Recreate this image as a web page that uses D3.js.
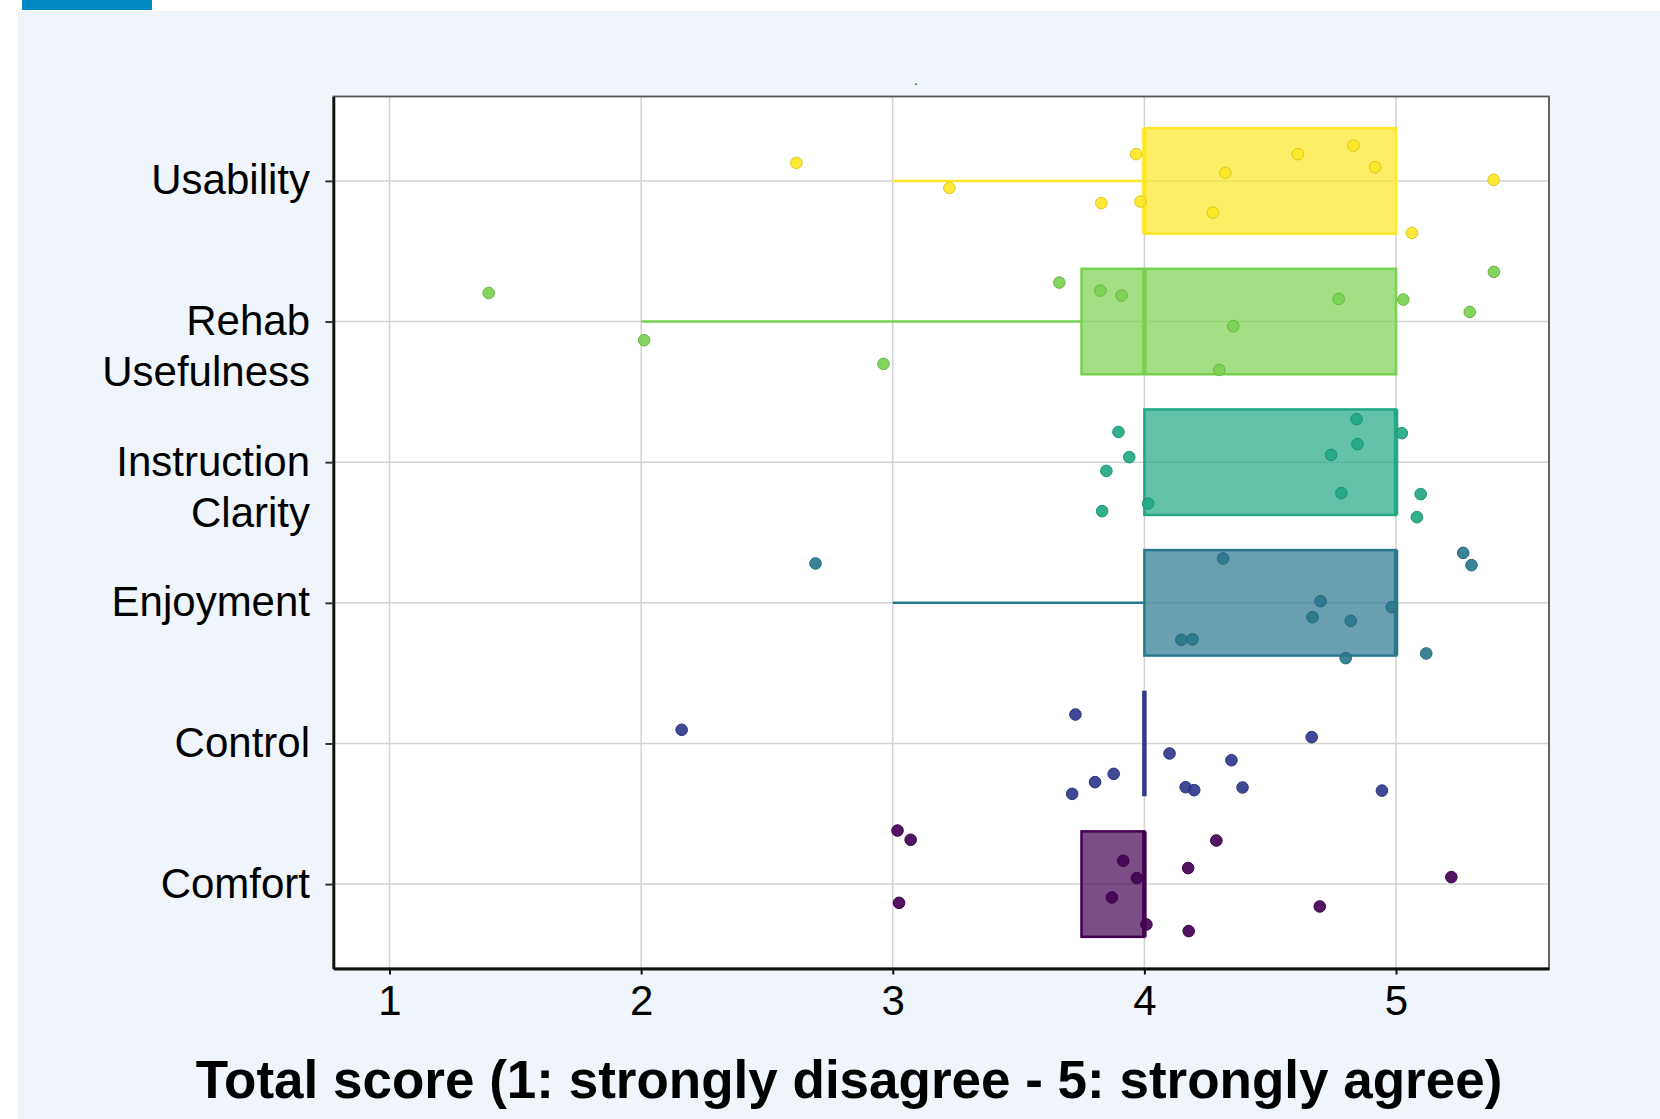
<!DOCTYPE html>
<html>
<head>
<meta charset="utf-8">
<script src="https://cdn.jsdelivr.net/npm/d3@7"></script>
<style>
  html, body { margin: 0; padding: 0; background: #ffffff; }
  svg { display: block; }
  text { font-family: "Liberation Sans", Arial, Helvetica, sans-serif; }
</style>
</head>
<body>
<svg id="chart" width="1660" height="1119"></svg>
<script>
// Survey dimensions, listed bottom to top
const categories = ["Comfort", "Control", "Enjoyment", "Instruction\nClarity", "Rehab\nUsefulness", "Usability"];
const colors = ["#440154", "#31388D", "#2A788E", "#22A884", "#7AD151", "#FDE725"];

// Box statistics per dimension (same order as categories)
const q1 = [3.75, 4, 4, 4, 3.75, 4];
const median = [4, 4, 5, 5, 4, 4];
const q3 = [4, 4, 5, 5, 5, 5];
const whiskerLow = [3.75, 4, 3, 4, 2, 3];
const whiskerHigh = [4, 4, 5, 5, 5, 5];

// Individual responses: [jittered score, vertical jitter in row units]
const comfortPts = [[3.019,0.381],[3.071,0.315],[3.025,-0.133],[4.286,0.310],[4.174,0.114],[3.916,0.166],
  [3.970,0.043],[3.871,-0.095],[4.008,-0.287],[4.176,-0.334],[4.697,-0.159],[5.220,0.050]];
const controlPts = [[2.161,0.097],[3.726,0.206],[3.878,-0.216],[3.804,-0.275],[3.713,-0.358],[4.100,-0.071],
  [4.346,-0.119],[4.164,-0.311],[4.198,-0.332],[4.390,-0.313],[4.665,0.045],[4.944,-0.335]];
const enjoymentPts = [[2.693,0.280],[4.313,0.315],[5.267,0.355],[5.300,0.268],[4.700,0.012],[4.983,-0.031],
  [4.668,-0.102],[4.820,-0.128],[4.147,-0.263],[4.191,-0.260],[4.800,-0.393],[5.120,-0.360]];
const instructionPts = [[3.897,0.215],[3.940,0.036],[3.849,-0.062],[3.832,-0.348],[4.015,-0.294],[4.843,0.306],
  [4.847,0.128],[4.742,0.052],[4.783,-0.220],[5.023,0.206],[5.098,-0.227],[5.083,-0.391]];
const rehabPts = [[1.394,0.203],[2.012,-0.133],[2.963,-0.301],[3.662,0.277],[3.825,0.220],[3.909,0.185],
  [4.772,0.161],[4.353,-0.033],[4.298,-0.344],[5.029,0.156],[5.389,0.353],[5.293,0.068]];
const usabilityPts = [[2.617,0.128],[3.225,-0.050],[3.967,0.190],[3.829,-0.158],[3.984,-0.147],[4.322,0.057],
  [4.272,-0.225],[4.610,0.190],[4.831,0.251],[4.917,0.097],[5.388,0.007],[5.063,-0.370]];
const pointSets = [comfortPts, controlPts, enjoymentPts, instructionPts, rehabPts, usabilityPts];

const xTicks = [1, 2, 3, 4, 5];
const xTitle = "Total score (1: strongly disagree - 5: strongly agree)";

const svg = d3.select("#chart");
const W = 1660, H = 1119;
const plot = { left: 333.4, right: 1549, top: 96.5, bottom: 968.5 };

// page backdrop
svg.append("rect").attr("x", 18).attr("y", 11).attr("width", W - 18).attr("height", H - 11).attr("fill", "#EFF5FA");
svg.append("rect").attr("x", 22).attr("y", 0).attr("width", 130).attr("height", 10).attr("fill", "#0089C2");

const x = d3.scaleLinear().domain([0.777, 5.608]).range([plot.left, plot.right]);
const y = d3.scaleLinear().domain([0.4, 6.6]).range([plot.bottom, plot.top]);
const rowY = i => y(i + 1);

// panel
svg.append("rect").attr("x", plot.left).attr("y", plot.top)
  .attr("width", plot.right - plot.left).attr("height", plot.bottom - plot.top).attr("fill", "#ffffff");

// grid
const grid = svg.append("g").attr("stroke", "#d3d3d3").attr("stroke-width", 1.5);
xTicks.forEach(t => grid.append("line").attr("x1", x(t)).attr("x2", x(t)).attr("y1", plot.top).attr("y2", plot.bottom));
categories.forEach((c, i) => grid.append("line").attr("x1", plot.left).attr("x2", plot.right).attr("y1", rowY(i)).attr("y2", rowY(i)));

// boxes
const boxH = y(0) - y(0.75);
const boxes = svg.append("g");
categories.forEach((c, i) => {
  const col = colors[i];
  const cy = rowY(i);
  const g = boxes.append("g");
  if (whiskerLow[i] < q1[i]) {
    g.append("line").attr("x1", x(whiskerLow[i])).attr("x2", x(q1[i])).attr("y1", cy).attr("y2", cy)
      .attr("stroke", col).attr("stroke-width", 2.5);
  }
  if (whiskerHigh[i] > q3[i]) {
    g.append("line").attr("x1", x(q3[i])).attr("x2", x(whiskerHigh[i])).attr("y1", cy).attr("y2", cy)
      .attr("stroke", col).attr("stroke-width", 2.5);
  }
  g.append("rect").attr("x", x(q1[i])).attr("y", cy - boxH / 2)
    .attr("width", x(q3[i]) - x(q1[i])).attr("height", boxH)
    .attr("fill", col).attr("fill-opacity", 0.7)
    .attr("stroke", col).attr("stroke-width", 2.5);
  g.append("line").attr("x1", x(median[i])).attr("x2", x(median[i]))
    .attr("y1", cy - boxH / 2).attr("y2", cy + boxH / 2)
    .attr("stroke", col).attr("stroke-width", 4.5);
});

// jittered responses
const pts = svg.append("g");
pointSets.forEach((set, i) => {
  const col = colors[i];
  pts.selectAll(null).data(set).enter().append("circle")
    .attr("cx", d => x(d[0]))
    .attr("cy", d => y(i + 1 + d[1]))
    .attr("r", 5.8)
    .attr("fill", col)
    .attr("fill-opacity", 0.92)
    .attr("stroke", d3.color(col).darker(0.4))
    .attr("stroke-width", 1);
});

// frame
svg.append("rect").attr("x", plot.left).attr("y", plot.top)
  .attr("width", plot.right - plot.left).attr("height", plot.bottom - plot.top)
  .attr("fill", "none").attr("stroke", "#555").attr("stroke-width", 1.8);

// x axis
const xAxis = svg.append("g").attr("transform", `translate(0,${plot.bottom})`)
  .call(d3.axisBottom(x).tickValues(xTicks).tickFormat(d3.format("d"))
    .tickSizeInner(6).tickSizeOuter(0).tickPadding(10.5));
xAxis.select(".domain").attr("stroke", "#111").attr("stroke-width", 2.8);
xAxis.selectAll(".tick line").attr("stroke", "#111").attr("stroke-width", 2);
xAxis.selectAll(".tick text").attr("font-size", 42).attr("fill", "#000")
  .attr("font-family", "'Liberation Sans', Arial, sans-serif");

// y axis
const yAxis = svg.append("g").attr("transform", `translate(${plot.left},0)`)
  .call(d3.axisLeft(y).tickValues(d3.range(1, categories.length + 1))
    .tickSizeInner(8).tickSizeOuter(0).tickPadding(15).tickFormat(""));
yAxis.select(".domain").attr("stroke", "#111").attr("stroke-width", 2.8);
yAxis.selectAll(".tick line").attr("stroke", "#333").attr("stroke-width", 2);
yAxis.selectAll(".tick").each(function (d) {
  const lines = categories[d - 1].split("\n");
  const t = d3.select(this).select("text")
    .attr("font-size", 42).attr("fill", "#000").attr("dy", null).attr("y", 13)
    .attr("font-family", "'Liberation Sans', Arial, sans-serif");
  t.text(null);
  lines.forEach((ln, k) => t.append("tspan").attr("x", -23.4).attr("dy", k === 0 ? 0 : 51).text(ln));
});

// axis title
svg.append("text").attr("x", 849).attr("y", 1098)
  .attr("text-anchor", "middle").attr("font-size", 53).attr("font-weight", "bold").attr("fill", "#000")
  .text(xTitle);

// plot title (a single dot)
svg.append("text").attr("x", 916).attr("y", 85).attr("text-anchor", "middle")
  .attr("font-size", 14).attr("fill", "#333").text(".");
</script>
</body>
</html>
